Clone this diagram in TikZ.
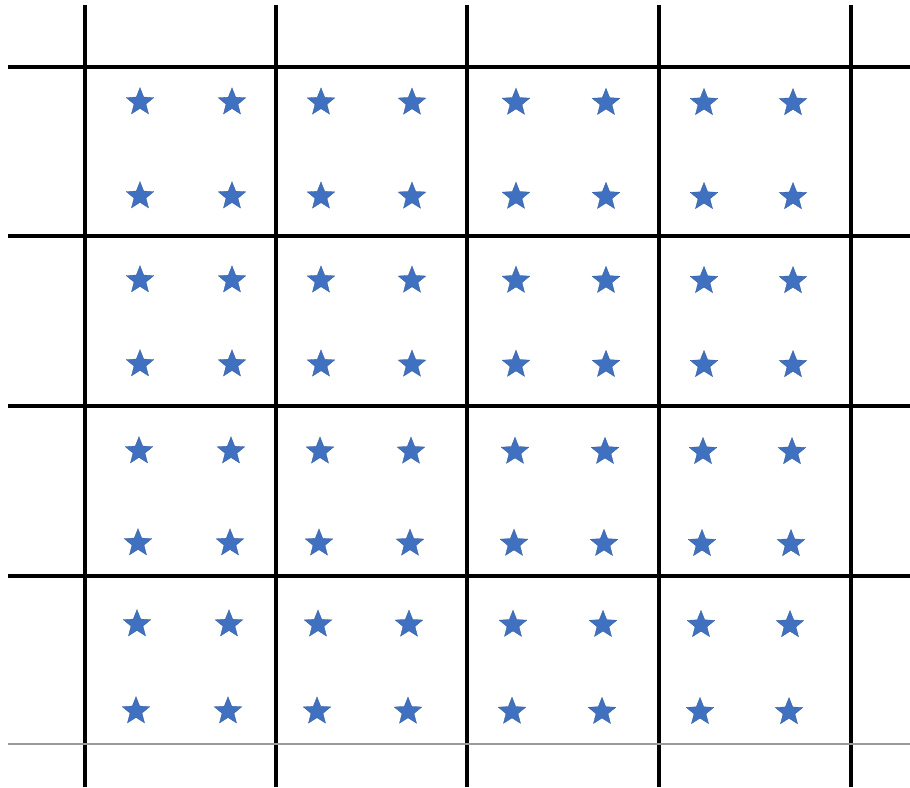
\documentclass[tikz,border=0pt]{standalone}
\usetikzlibrary{shapes.geometric}
\definecolor{starblue}{RGB}{64,112,192}
\begin{document}
\begin{tikzpicture}[x=1pt,y=-1pt,
  gridline/.style={line width=3.2pt,black},
  lastline/.style={line width=2.2pt,black!40},
  starmark/.style={star,star points=5,star point ratio=2.3,fill=starblue,draw=starblue!80!black,line width=0.3pt,minimum size=29pt,inner sep=0pt}]
\useasboundingbox[fill=white] (0,0) rectangle (910,787);
% vertical lines
\foreach \x in {85,276,467,659,851}
  \draw[gridline] (\x,5) -- (\x,787);
% horizontal lines
\foreach \y in {67,236,406,576}
  \draw[gridline] (8,\y) -- (910,\y);
\draw[lastline] (8,744) -- (910,744);
% stars
\foreach \y/\dy [count=\r] in {102/0,196/0,280/0,364/0,451/1,543/2,624/3,711/4}{
  \foreach \x [count=\c] in {140,232,321,412,516,606,704,793}{
    \node[starmark] (s\r-\c) at ({\x-\dy},{\y+0.5*\c/4}) {};
  }
}
\end{tikzpicture}
\end{document}
